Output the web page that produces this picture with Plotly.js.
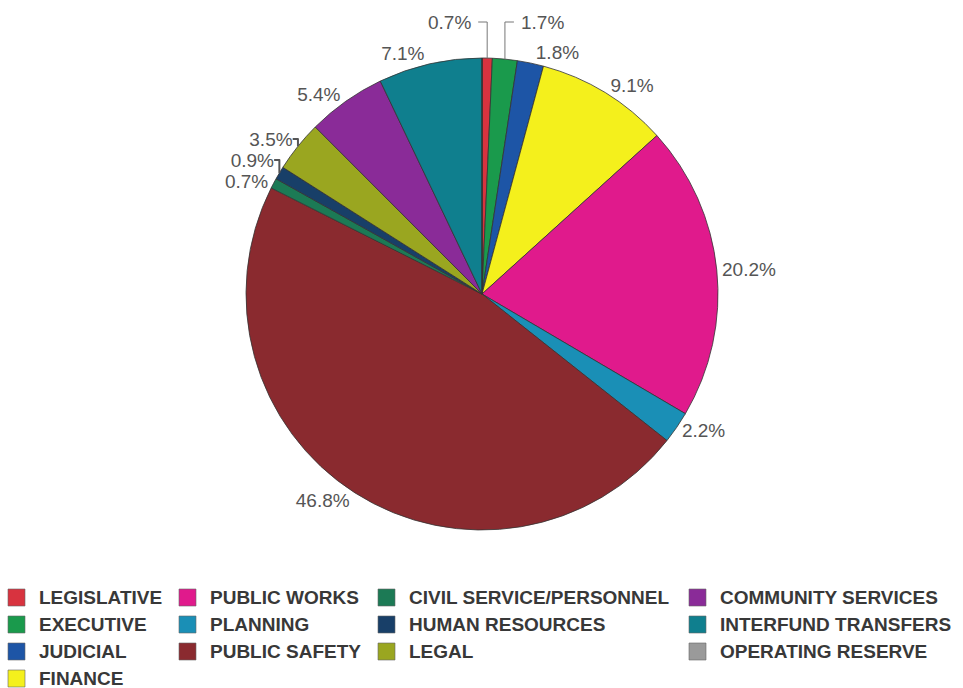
<!DOCTYPE html>
<html><head><meta charset="utf-8">
<script src="https://cdn.plot.ly/plotly-3.0.1.min.js"></script>
<style>html,body{margin:0;padding:0;background:#fff}#chart{width:963px;height:688px}</style>
</head><body><div id="chart"></div>
<script>
const labels = ["LEGISLATIVE","EXECUTIVE","JUDICIAL","FINANCE","PUBLIC WORKS","PLANNING","PUBLIC SAFETY","CIVIL SERVICE/PERSONNEL","HUMAN RESOURCES","LEGAL","COMMUNITY SERVICES","INTERFUND TRANSFERS","OPERATING RESERVE"];
const values = [0.7,1.7,1.8,9.1,20.2,2.2,46.8,0.7,0.9,3.5,5.4,7.1,0];
const pctText = ["0.7%","1.7%","1.8%","9.1%","20.2%","2.2%","46.8%","0.7%","0.9%","3.5%","5.4%","7.1%",""];
const colors = ["#d8333f","#1a9a4c","#1d55a6","#f4f01c","#e01a8c","#1a8fb6","#8a2a2f","#1c7a55","#183f68","#9aa620","#8a2b98","#0f7f8e","#9a9a9a"];
// legend layout: columns of label indices (column-major as in reference)
const legendCols = [[0,1,2,3],[4,5,6],[7,8,9],[10,11,12]];
// slices whose labels are drawn as annotations with elbow leaders (top cluster)
const leaderSlices = [0,1];

const W = 963, H = 688;
const CX = 482, CY = 294, R = 236;
const FONT = 'Liberation Sans, Arial, sans-serif';
const px = x => x/W, py = y => 1-y/H;

const shapes = [], annotations = [];
const colSquareX = [8, 179, 378, 689];
const rowY = [597, 624, 651, 678];
legendCols.forEach((col, ci) => {
  col.forEach((idx, ri) => {
    const x0 = colSquareX[ci], y0 = rowY[ri] - 8;
    shapes.push({type:'rect', xref:'paper', yref:'paper',
      x0: px(x0), x1: px(x0+17), y0: py(y0+17), y1: py(y0),
      fillcolor: colors[idx], line:{color:'#666', width:0.6}});
    annotations.push({xref:'paper', yref:'paper', x:px(x0+29), y:py(rowY[ri]),
      xanchor:'left', yanchor:'middle', showarrow:false, text:labels[idx],
      font:{family:FONT, size:19, color:'#383838', weight:'bold'}});
  });
});

// mid-angle edge points from data (clockwise from 12 o'clock)
const total = values.reduce((a,b)=>a+b,0);
function edge(i){
  let before = 0; for(let k=0;k<i;k++) before += values[k];
  const a = (before + values[i]/2)/total*2*Math.PI;
  return [CX + R*Math.sin(a), CY - R*Math.cos(a)];
}
const leaderY = 22;
const leaderSide = {0:-1, 1:1};
leaderSlices.forEach(i => {
  const [ex, ey] = edge(i);
  const s = leaderSide[i];
  const hx = ex + s*9;
  shapes.push({type:'path', xref:'paper', yref:'paper',
    path:`M${px(ex)},${py(ey)} L${px(ex)},${py(leaderY)} L${px(hx)},${py(leaderY)}`,
    line:{color:'#777', width:1}});
  annotations.push({xref:'paper', yref:'paper', x:px(hx + s*5), y:py(leaderY),
    xanchor: s<0 ? 'right':'left', yanchor:'middle', showarrow:false, text:pctText[i],
    font:{family:FONT, size:19, color:'#555'}});
});

const textpos = values.map((v,i)=> leaderSlices.includes(i) ? 'none' : 'outside');
const trace = {
  type:'pie', labels:labels, values:values, text:pctText,
  textinfo:'text', textposition:textpos, sort:false, direction:'clockwise', rotation:0,
  marker:{colors:colors, line:{color:'#333', width:0.8}},
  outsidetextfont:{family:FONT, size:19, color:'#555'},
  domain:{x:[px(CX-R),px(CX+R)], y:[py(CY+R), py(CY-R)]},
  showlegend:false, hoverinfo:'label+percent'
};
Plotly.newPlot('chart',[trace],{
  width:W, height:H, margin:{l:0,r:0,t:0,b:0},
  paper_bgcolor:'#fff', showlegend:false, shapes:shapes, annotations:annotations
},{staticPlot:true});
</script></body></html>
